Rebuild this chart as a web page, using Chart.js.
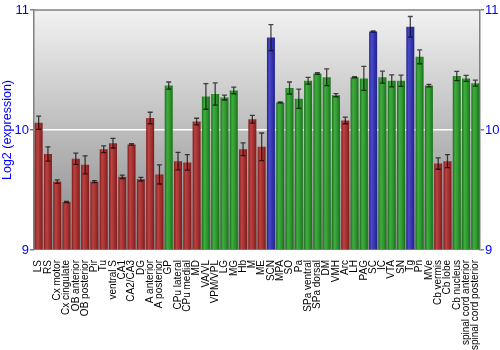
<!DOCTYPE html>
<html>
<head>
<meta charset="utf-8">
<script src="https://cdn.jsdelivr.net/npm/chart.js@4.4.1/dist/chart.umd.min.js"></script>
<style>
  html, body { margin: 0; padding: 0; background: #ffffff; }
  #wrap { width: 500px; height: 350px; }
</style>
</head>
<body>
<div id="wrap"><canvas id="c" width="500" height="350"></canvas></div>
<script>
// Brain regions along the x axis
const regions = [
  "LS", "RS", "Cx motor", "Cx cingulate", "OB anterior", "OB posterior", "Pir", "Tu",
  "ventral S", "CA1", "CA2/CA3", "DG", "A anterior", "A posterior", "GP", "CPu lateral",
  "CPu medial", "MD", "VA/VL", "VPM/VPL", "LG", "MG", "Hb", "M", "ME", "SCN", "MPA",
  "SO", "Pa", "SPa ventral", "SPa dorsal", "DM", "VMH", "Arc", "LH", "PAG", "SC", "IC",
  "VTA", "SN", "Tg", "Pn", "MVe", "Cb vermis", "Cb lobe", "Cb nucleus",
  "spinal cord anterior", "spinal cord posterior"
];

// Mean log2 expression per region
const expression = [
  10.06, 9.80, 9.57, 9.40, 9.76, 9.71, 9.57, 9.84,
  9.89, 9.61, 9.88, 9.59, 10.10, 9.63, 10.37, 9.74,
  9.73, 10.07, 10.28, 10.30, 10.27, 10.33, 9.84, 10.09, 9.86, 10.77, 10.23,
  10.35, 10.26, 10.41, 10.47, 10.44, 10.29, 10.08, 10.44, 10.43, 10.82, 10.44,
  10.41, 10.41, 10.86, 10.61, 10.37, 9.72, 9.74, 10.45,
  10.43, 10.39
];

// Standard error per region
const stdError = [
  0.055, 0.06, 0.015, 0.005, 0.047, 0.075, 0.008, 0.028,
  0.04, 0.014, 0.006, 0.015, 0.048, 0.08, 0.03, 0.073,
  0.064, 0.028, 0.107, 0.093, 0.02, 0.028, 0.053, 0.032, 0.115, 0.108, 0.005,
  0.05, 0.08, 0.028, 0.007, 0.07, 0.013, 0.028, 0.005, 0.1, 0.005, 0.05,
  0.05, 0.047, 0.086, 0.058, 0.01, 0.047, 0.054, 0.038,
  0.025, 0.025
];

// Expression class of each region: low / mid / high
const level = [
  "low", "low", "low", "low", "low", "low", "low", "low",
  "low", "low", "low", "low", "low", "low", "mid", "low",
  "low", "low", "mid", "mid", "mid", "mid", "low", "low", "low", "high", "mid",
  "mid", "mid", "mid", "mid", "mid", "mid", "low", "mid", "mid", "high", "mid",
  "mid", "mid", "high", "mid", "mid", "low", "low", "mid",
  "mid", "mid"
];

const yTicks = [9, 10, 11];

const palette = {
  low:  { edge: "#7e1c1c", light: "#bb4242", mid: "#a33030" },
  mid:  { edge: "#1a6e1a", light: "#40ad40", mid: "#2f962f" },
  high: { edge: "#22228a", light: "#4a4acb", mid: "#3434b0" }
};

const BAR_PCT = 0.86;

function barFill(ctx) {
  const chart = ctx.chart;
  const xs = chart.scales.x;
  const col = palette[level[ctx.dataIndex]];
  if (!xs || !chart.chartArea) return col.mid;
  const cx = xs.getPixelForValue(ctx.dataIndex);
  const half = (xs.width / regions.length) * BAR_PCT / 2;
  const g = chart.ctx.createLinearGradient(cx - half, 0, cx + half, 0);
  g.addColorStop(0, col.edge);
  g.addColorStop(0.3, col.light);
  g.addColorStop(0.65, col.mid);
  g.addColorStop(1, col.edge);
  return g;
}

// Grey vertical gradient behind the plot plus a frame line on top
const plotBackground = {
  id: "plotBackground",
  beforeDraw(chart) {
    const { ctx, chartArea: a } = chart;
    const g = ctx.createLinearGradient(0, a.top, 0, a.bottom);
    g.addColorStop(0, "#f2f2f2");
    g.addColorStop(1, "#868686");
    ctx.save();
    ctx.fillStyle = g;
    ctx.fillRect(a.left, a.top, a.right - a.left, a.bottom - a.top);
    ctx.restore();
  },
  afterDraw(chart) {
    const { ctx, chartArea: a } = chart;
    ctx.save();
    ctx.strokeStyle = "#808080";
    ctx.lineWidth = 1.5;
    ctx.beginPath();
    ctx.moveTo(a.left, a.top);
    ctx.lineTo(a.right, a.top);
    ctx.stroke();
    ctx.restore();
  }
};

// Error bars with caps, drawn from the y scale
const errorBars = {
  id: "errorBars",
  afterDatasetsDraw(chart) {
    const { ctx } = chart;
    const xs = chart.scales.x, ys = chart.scales.y;
    ctx.save();
    ctx.strokeStyle = "rgba(0,0,0,0.7)";
    ctx.lineWidth = 1.3;
    expression.forEach((v, i) => {
      const e = stdError[i];
      const x = xs.getPixelForValue(i);
      const y1 = ys.getPixelForValue(v + e);
      const y2 = ys.getPixelForValue(v - e);
      ctx.beginPath();
      ctx.moveTo(x, y1); ctx.lineTo(x, y2);
      ctx.moveTo(x - 2.5, y1); ctx.lineTo(x + 2.5, y1);
      ctx.moveTo(x - 2.5, y2); ctx.lineTo(x + 2.5, y2);
      ctx.stroke();
    });
    ctx.restore();
  }
};

const tickFont = { family: "'Liberation Sans', Arial, sans-serif", size: 13 };

function yAxis(position, withTitle) {
  return {
    type: "linear",
    position,
    min: 9,
    max: 11,
    afterBuildTicks(scale) { scale.ticks = yTicks.map(v => ({ value: v })); },
    afterFit(scale) { scale.width = position === "left" ? 34 : 20; },
    ticks: { color: "#0000ff", font: tickFont, padding: 1 },
    border: { display: true, color: "#808080", width: 1.5 },
    grid: {
      drawOnChartArea: position === "left",
      color: c => (c.tick && c.tick.value === 10 ? "#ffffff" : "rgba(0,0,0,0)"),
      lineWidth: 1.5,
      tickColor: "#808080",
      tickLength: 4
    },
    title: {
      display: withTitle,
      text: "Log2 (expression)",
      color: "#0000ff",
      font: { family: "'Liberation Sans', Arial, sans-serif", size: 12.5 },
      padding: { top: 0, bottom: 0 }
    }
  };
}

new Chart(document.getElementById("c"), {
  type: "bar",
  data: {
    labels: regions,
    datasets: [{
      data: expression,
      base: 9,
      backgroundColor: barFill,
      borderWidth: 0,
      barPercentage: BAR_PCT,
      categoryPercentage: 1.0
    }]
  },
  options: {
    responsive: false,
    animation: false,
    devicePixelRatio: 1,
    layout: { padding: { top: 10, left: 0, right: 0, bottom: 0 } },
    plugins: { legend: { display: false }, tooltip: { enabled: false } },
    scales: {
      x: {
        afterFit(scale) { scale.height = 100; },
        ticks: {
          color: "#000000",
          font: { family: "'Liberation Sans', Arial, sans-serif", size: 10 },
          minRotation: 90,
          maxRotation: 90,
          autoSkip: false,
          padding: 2
        },
        grid: { display: false },
        border: { display: false }
      },
      y: yAxis("left", true),
      y2: yAxis("right", false)
    }
  },
  plugins: [plotBackground, errorBars]
});
</script>
</body>
</html>
